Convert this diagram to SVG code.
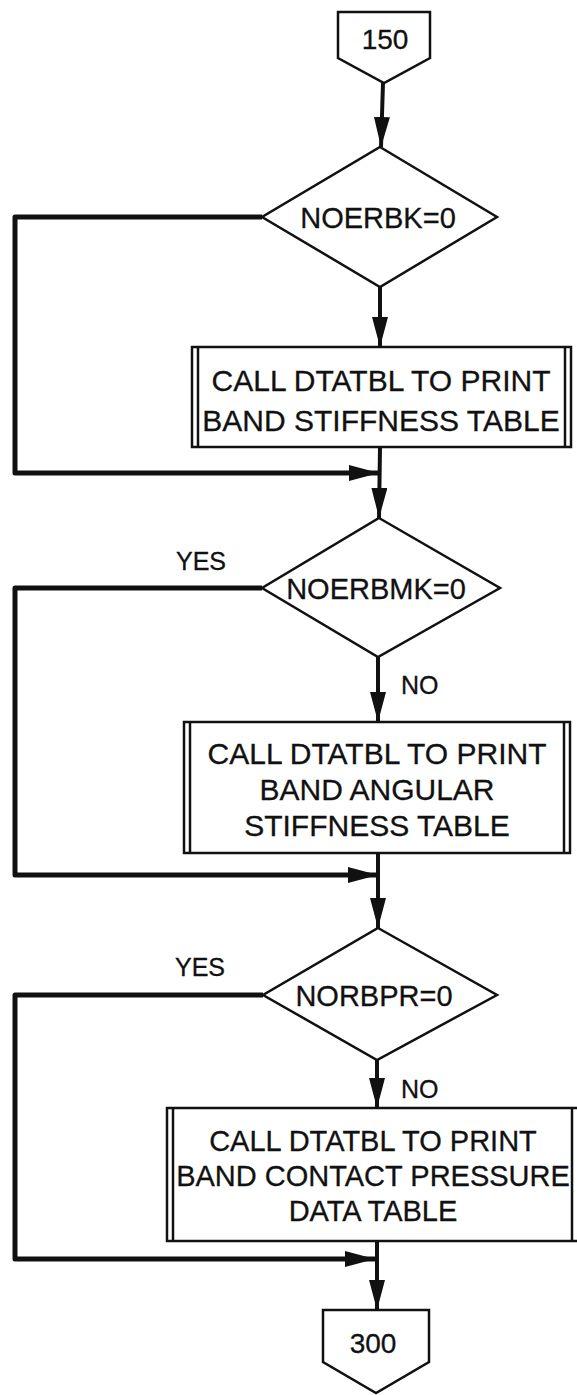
<svg xmlns="http://www.w3.org/2000/svg" width="577" height="1395" viewBox="0 0 577 1395">
<style>
.shape{fill:#fff;stroke:#111;stroke-width:2.5;stroke-linejoin:miter}
.edge{fill:none;stroke:#111;stroke-width:4}
.loop{fill:none;stroke:#111;stroke-width:5;stroke-linejoin:round}
.t{font-family:"Liberation Sans",Arial,Helvetica,sans-serif;fill:#111;stroke:#111;stroke-width:0.3;text-anchor:middle}
.bx{font-size:30px}
.bx3{font-size:29px}
.dm{font-size:29px}
.lb{font-size:25px;text-anchor:start}
</style>
<defs>
<marker id="arr" markerUnits="userSpaceOnUse" markerWidth="30" markerHeight="16" refX="30" refY="8" orient="auto">
<path d="M0,0 L30,8 L0,16 z" fill="#111"/>
</marker>
</defs>
<rect width="577" height="1395" fill="#fff"/>
<g id="connectors">
<line class="edge" x1="383" y1="83" x2="381" y2="147" marker-end="url(#arr)"/>
<line class="edge" x1="380" y1="287" x2="380" y2="347" marker-end="url(#arr)"/>
<line class="edge" x1="380" y1="447" x2="379" y2="518" marker-end="url(#arr)"/>
<path class="loop" d="M262,217 H15 V473 H379" marker-end="url(#arr)"/>
<line class="edge" x1="378" y1="657" x2="378" y2="722" marker-end="url(#arr)"/>
<line class="edge" x1="378" y1="853" x2="378" y2="928" marker-end="url(#arr)"/>
<path class="loop" d="M262,588 H15 V875 H378" marker-end="url(#arr)"/>
<line class="edge" x1="377" y1="1060" x2="377" y2="1108" marker-end="url(#arr)"/>
<line class="edge" x1="377" y1="1241" x2="377" y2="1310" marker-end="url(#arr)"/>
<path class="loop" d="M263,995 H15 V1259 H375" marker-end="url(#arr)"/>
</g>
<g id="n150">
<polygon class="shape" points="338,12 430,12 430,58 384,83 338,58"/>
<text class="t" x="385" y="49" font-size="28">150</text>
</g>
<g id="d1">
<polygon class="shape" points="380,147 497,217 380,287 262,217"/>
<text class="t dm" x="378" y="228">NOERBK=0</text>
</g>
<g id="b1">
<rect class="shape" x="192" y="347" width="379" height="100"/>
<line class="shape" x1="198" y1="347" x2="198" y2="447"/>
<line class="shape" x1="565" y1="347" x2="565" y2="447"/>
<text class="t bx" x="381" y="391">CALL DTATBL TO PRINT</text>
<text class="t bx" x="381" y="431">BAND STIFFNESS TABLE</text>
</g>
<g id="d2">
<polygon class="shape" points="379,518 500,588 378,657 262,588"/>
<text class="t dm" x="376" y="599">NOERBMK=0</text>
<text class="t lb" x="176" y="570">YES</text>
<text class="t lb" x="401" y="694">NO</text>
</g>
<g id="b2">
<rect class="shape" x="184" y="722" width="386" height="131"/>
<line class="shape" x1="190" y1="722" x2="190" y2="853"/>
<line class="shape" x1="564" y1="722" x2="564" y2="853"/>
<text class="t bx" x="377" y="764">CALL DTATBL TO PRINT</text>
<text class="t bx" x="377" y="800">BAND ANGULAR</text>
<text class="t bx" x="377" y="836">STIFFNESS TABLE</text>
</g>
<g id="d3">
<polygon class="shape" points="378,928 497,995 377,1060 263,995"/>
<text class="t dm" x="374" y="1006">NORBPR=0</text>
<text class="t lb" x="175" y="976">YES</text>
<text class="t lb" x="401" y="1098">NO</text>
</g>
<g id="b3">
<rect class="shape" x="167" y="1108" width="412" height="133"/>
<line class="shape" x1="173" y1="1108" x2="173" y2="1241"/>
<line class="shape" x1="572" y1="1108" x2="572" y2="1241"/>
<text class="t bx3" x="373" y="1151">CALL DTATBL TO PRINT</text>
<text class="t bx3" x="373" y="1186">BAND CONTACT PRESSURE</text>
<text class="t bx3" x="373" y="1221">DATA TABLE</text>
</g>
<g id="n300">
<polygon class="shape" points="323,1310 429,1310 429,1362 376,1393 323,1362"/>
<text class="t" x="373" y="1353" font-size="28">300</text>
</g>
</svg>
